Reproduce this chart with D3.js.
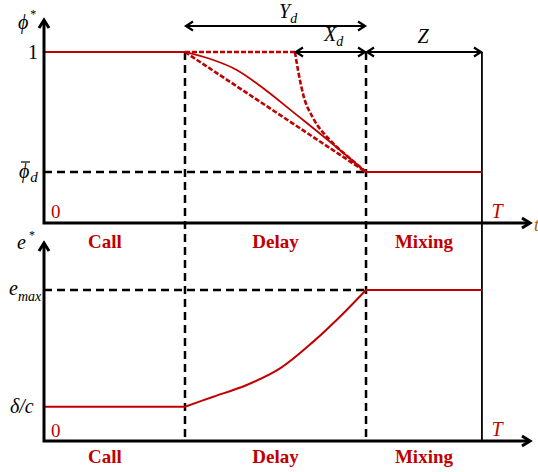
<!DOCTYPE html>
<html>
<head>
<meta charset="utf-8">
<script src="https://cdn.jsdelivr.net/npm/d3@7"></script>
<style>
  body { margin: 0; background: #fff; }
  svg { display: block; }
</style>
</head>
<body>
<div id="chart"></div>
<script>
// time breakpoints (call ends, delay ends, mixing ends at T), axis end
var phases = ["Call", "Delay", "Mixing"];
var phaseEdges = [0, 1, 2.284, 3.106];
var axisEnd = 3.447;
var xdStart = 1.780;

// top panel: phi*
var phiBar = 0.298;
var phiSolidT = [1, 1.201, 1.367, 1.555, 1.792, 2.028, 2.284];
var phiSolid = [1, 0.953, 0.895, 0.788, 0.632, 0.475, 0.298];
var phiLateT = [1.780, 1.804, 1.839, 1.910, 2.028, 2.170, 2.284];
var phiLate = [1, 0.883, 0.749, 0.612, 0.485, 0.378, 0.298];

// bottom panel: e*
var eMax = 1;
var eLow = 0.227;
var eDelayT = [1, 1.201, 1.438, 1.674, 1.910, 2.099, 2.284];
var eDelay = [0.227, 0.293, 0.371, 0.481, 0.658, 0.823, 1];

var red = "#c00000";
var serif = "'Liberation Serif', Tinos, 'Times New Roman', Times, 'DejaVu Serif', serif";
var W = 538, H = 472;

var svg = d3.select("#chart").append("svg")
    .attr("width", W)
    .attr("height", H)
    .attr("font-family", serif);

var x = d3.scaleLinear().domain([0, axisEnd]).range([44, 530]);
var yTop = d3.scaleLinear().domain([0, 1.187]).range([223, 20]);
var yBot = d3.scaleLinear().domain([0, 1.311]).range([441, 243]);

function zip(ts, vs) {
    return ts.map(function(t, i) { return [t, vs[i]]; });
}

function line(y, curve) {
    return d3.line()
        .x(function(d) { return x(d[0]); })
        .y(function(d) { return y(d[1]); })
        .curve(curve || d3.curveLinear);
}

function chevron(px, py, dir, len, half) {
    // dir: "left", "right", "up"
    if (dir === "up") return "M" + (px - half) + "," + (py + len) + "L" + px + "," + py + "L" + (px + half) + "," + (py + len);
    var s = dir === "left" ? 1 : -1;
    return "M" + (px + s * len) + "," + (py - half) + "L" + px + "," + py + "L" + (px + s * len) + "," + (py + half);
}

var g = svg.append("g");

// ---- guide lines (black dashed) ----
var dash = "8,5";
[phaseEdges[1], phaseEdges[2]].forEach(function(t) {
    g.append("line")
        .attr("x1", x(t)).attr("x2", x(t))
        .attr("y1", yTop(1)).attr("y2", yBot(0))
        .attr("stroke", "#000").attr("stroke-width", 2.5)
        .attr("stroke-dasharray", dash);
});
g.append("line")
    .attr("x1", x(0)).attr("x2", x(phaseEdges[2]))
    .attr("y1", yTop(phiBar)).attr("y2", yTop(phiBar))
    .attr("stroke", "#000").attr("stroke-width", 2.5)
    .attr("stroke-dasharray", dash);
g.append("line")
    .attr("x1", x(0)).attr("x2", x(phaseEdges[2]))
    .attr("y1", yBot(eMax)).attr("y2", yBot(eMax))
    .attr("stroke", "#000").attr("stroke-width", 2.5)
    .attr("stroke-dasharray", dash);

// T line
g.append("line")
    .attr("x1", x(phaseEdges[3])).attr("x2", x(phaseEdges[3]))
    .attr("y1", yTop(1)).attr("y2", yBot(0) + 1)
    .attr("stroke", "#000").attr("stroke-width", 1.8);

// ---- red curves, top ----
var smooth = d3.curveCatmullRom.alpha(0.5);
var topG = g.append("g").attr("fill", "none").attr("stroke", red);
topG.append("path")
    .attr("d", line(yTop)([[0, 1], [phaseEdges[1], 1]]))
    .attr("stroke-width", 2);
topG.append("path")
    .attr("d", line(yTop)([[phaseEdges[1], 1], [phaseEdges[2], phiBar]]))
    .attr("stroke-width", 2.6).attr("stroke-dasharray", "5,2");
topG.append("path")
    .attr("d", line(yTop, smooth)(zip(phiSolidT, phiSolid)))
    .attr("stroke-width", 1.8);
topG.append("path")
    .attr("d", line(yTop)([[phaseEdges[1], 1], [xdStart, 1]]))
    .attr("stroke-width", 2.6).attr("stroke-dasharray", "5,2");
topG.append("path")
    .attr("d", line(yTop, d3.curveMonotoneX)(zip(phiLateT, phiLate)))
    .attr("stroke-width", 2.6).attr("stroke-dasharray", "5,2");
topG.append("path")
    .attr("d", line(yTop)([[phaseEdges[2], phiBar], [phaseEdges[3], phiBar]]))
    .attr("stroke-width", 2);

// ---- red curves, bottom ----
var botG = g.append("g").attr("fill", "none").attr("stroke", red).attr("stroke-width", 2);
botG.append("path").attr("d", line(yBot)([[0, eLow], [phaseEdges[1], eLow]]));
botG.append("path").attr("d", line(yBot, smooth)(zip(eDelayT, eDelay)));
botG.append("path").attr("d", line(yBot)([[phaseEdges[2], eMax], [phaseEdges[3], eMax]]));

// ---- axes ----
[[yTop, 1.187], [yBot, 1.311]].forEach(function(p) {
    var y = p[0];
    g.append("path")
        .attr("d", "M" + x(0) + "," + y(p[1]) + "V" + y(0) + "H" + x(axisEnd))
        .attr("fill", "none").attr("stroke", "#000").attr("stroke-width", 3);
    g.append("path")
        .attr("d", chevron(x(0), y(p[1]), "up", 8, 5))
        .attr("fill", "none").attr("stroke", "#000").attr("stroke-width", 3);
    g.append("path")
        .attr("d", chevron(x(axisEnd), y(0), "right", 8, 5))
        .attr("fill", "none").attr("stroke", "#000").attr("stroke-width", 3);
});

// ---- dimension arrows ----
var dims = [
    { a: phaseEdges[1], b: phaseEdges[2], y: 26 },
    { a: xdStart, b: phaseEdges[2], y: yTop(1) },
    { a: phaseEdges[2], b: phaseEdges[3], y: yTop(1) }
];
dims.forEach(function(d) {
    var x1 = x(d.a) + 1, x2 = x(d.b) - 1;
    g.append("line")
        .attr("x1", x1).attr("x2", x2).attr("y1", d.y).attr("y2", d.y)
        .attr("stroke", "#000").attr("stroke-width", 2);
    g.append("path").attr("d", chevron(x1, d.y, "left", 7, 4.5))
        .attr("fill", "none").attr("stroke", "#000").attr("stroke-width", 2.2);
    g.append("path").attr("d", chevron(x2, d.y, "right", 7, 4.5))
        .attr("fill", "none").attr("stroke", "#000").attr("stroke-width", 2.2);
});

// ---- labels ----
function label(px, py, parts, opts) {
    opts = opts || {};
    var t = svg.append("text")
        .attr("x", px).attr("y", py)
        .attr("font-family", serif)
        .attr("text-anchor", opts.anchor || "start")
        .attr("fill", opts.fill || "#000")
        .attr("font-size", opts.size || 20);
    parts.forEach(function(p) {
        var s = t.append("tspan").text(p.t);
        if (p.italic) s.attr("font-style", "italic");
        if (p.size) s.attr("font-size", p.size);
        if (p.dy) s.attr("dy", p.dy);
        if (p.dx) s.attr("dx", p.dx);
    });
    return t;
}

// top panel
label(18, 29, [{ t: "ϕ", italic: true }, { t: "*", size: 12, dy: -11, dx: 2 }]);
label(33, 59, [{ t: "1" }], { anchor: "middle" });
label(19, 178, [{ t: "ϕ", italic: true }, { t: "d", italic: true, size: 15, dy: 4, dx: 1 }]);
svg.append("line").attr("x1", 21).attr("x2", 30).attr("y1", 162).attr("y2", 162)
    .attr("stroke", "#000").attr("stroke-width", 1.2);
label(51, 218, [{ t: "0" }], { fill: red, size: 19 });
label(497, 218, [{ t: "T", italic: true }], { fill: red, anchor: "middle" });
label(534, 231, [{ t: "t", italic: true }], { fill: "#b05a00", size: 18 });

label(279, 18, [{ t: "Y", italic: true }, { t: "d", italic: true, size: 14, dy: 5 }]);
label(324, 41, [{ t: "X", italic: true }, { t: "d", italic: true, size: 14, dy: 5 }]);
label(423, 43, [{ t: "Z", italic: true }], { anchor: "middle" });

// bottom panel
label(17, 249, [{ t: "e", italic: true }, { t: "*", size: 12, dy: -10, dx: 3 }]);
label(9, 295, [{ t: "e", italic: true }, { t: "max", italic: true, size: 14, dy: 6 }]);
label(10, 413, [{ t: "δ/c", italic: true }]);
label(51, 437, [{ t: "0" }], { fill: red, size: 19 });
label(497, 436, [{ t: "T", italic: true }], { fill: red, anchor: "middle" });

// phase names under both axes
[[248], [463]].forEach(function(p) {
    phases.forEach(function(name, i) {
        var cx = i === 0 ? 105 : (x(phaseEdges[i]) + x(phaseEdges[i + 1])) / 2;
        label(cx, p[0], [{ t: name }], { fill: red, anchor: "middle", size: 19 })
            .attr("font-weight", "bold");
    });
});
</script>
</body>
</html>
